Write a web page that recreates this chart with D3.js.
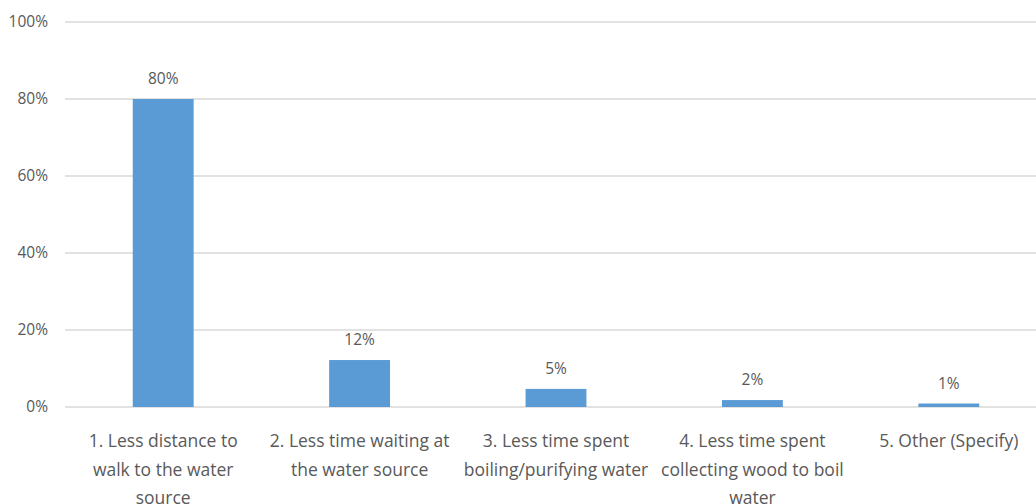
<!DOCTYPE html>
<html>
<head>
<meta charset="utf-8">
<script src="https://cdn.jsdelivr.net/npm/d3@7"></script>
<style>
  html, body { margin: 0; padding: 0; background: #fff; }
  svg { display: block; }
  text { font-family: "Open Sans", Lato, sans-serif; fill: #595959; }
</style>
</head>
<body>
<svg id="chart" width="1036" height="504"></svg>
<script>
const categories = [
  "1. Less distance to\nwalk to the water\nsource",
  "2. Less time waiting at\nthe water source",
  "3. Less time spent\nboiling/purifying water",
  "4. Less time spent\ncollecting wood to boil\nwater",
  "5. Other (Specify)"
];
const values = [0.80, 0.122, 0.047, 0.018, 0.009];
const valueLabels = ["80%", "12%", "5%", "2%", "1%"];
const yTicks = [0, 0.2, 0.4, 0.6, 0.8, 1.0];

const svg = d3.select("#chart");
const mLeft = 65, mRight = 1047, mTop = 22, mBottom = 407;

const x = d3.scaleBand().domain(categories).range([mLeft, mRight]).paddingInner(0.69).paddingOuter(0.345);
const y = d3.scaleLinear().domain([0, 1]).range([mBottom, mTop]);

// gridlines
svg.append("g").selectAll("line").data(yTicks).join("line")
  .attr("x1", mLeft).attr("x2", mRight)
  .attr("y1", d => y(d)).attr("y2", d => y(d))
  .attr("stroke", "#d9d9d9").attr("stroke-width", 1.3);

// y axis labels
const yAxis = d3.axisLeft(y).tickValues(yTicks).tickFormat(d3.format(".0%")).tickSize(0).tickPadding(17);
const ga = svg.append("g").attr("transform", `translate(${mLeft},0)`).call(yAxis);
ga.select(".domain").remove();
ga.selectAll("text").attr("font-size", 15.5).attr("fill", "#595959").attr("font-family", "\"Open Sans\", Lato, sans-serif");

// bars
svg.append("g").selectAll("rect").data(values).join("rect")
  .attr("x", (d, i) => x(categories[i]))
  .attr("width", x.bandwidth())
  .attr("y", d => y(d))
  .attr("height", d => y(0) - y(d))
  .attr("fill", "#5b9bd5");

// value labels
svg.append("g").selectAll("text").data(values).join("text")
  .attr("x", (d, i) => x(categories[i]) + x.bandwidth() / 2)
  .attr("y", d => y(d) - 15)
  .attr("text-anchor", "middle")
  .attr("font-size", 15.5)
  .text((d, i) => valueLabels[i]);

// category labels
const cl = svg.append("g").selectAll("text").data(categories).join("text")
  .attr("x", d => x(d) + x.bandwidth() / 2)
  .attr("y", mBottom + 40)
  .attr("text-anchor", "middle")
  .attr("font-size", 17.5);
cl.each(function(d) {
  const t = d3.select(this);
  d.split("\n").forEach((line, i) => {
    t.append("tspan").attr("x", x(d) + x.bandwidth() / 2).attr("dy", i === 0 ? 0 : 28.5).text(line);
  });
});
</script>
</body>
</html>
